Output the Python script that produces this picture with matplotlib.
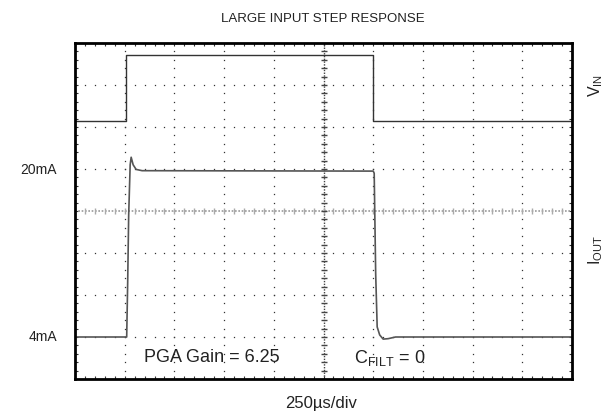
import numpy as np
import matplotlib
matplotlib.use("Agg")
import matplotlib.pyplot as plt

plt.rcParams['font.family'] = ['Liberation Sans', 'DejaVu Sans']

# traces, in scope divisions (x: 0..10, y: 0..8)
vin_t = [0, 1.02, 1.02, 5.99, 5.99, 10]
vin_v = [6.14, 6.14, 7.71, 7.71, 6.15, 6.15]

iout_t = [0, 1.04, 1.06, 1.08, 1.11, 1.13, 1.17, 1.23, 1.35,
          6.0, 6.02, 6.05, 6.08, 6.13, 6.2, 6.3, 6.45, 10]
iout_v = [1.0, 1.0, 2.3, 3.9, 5.1, 5.28, 5.1, 4.99, 4.96,
          4.95, 4.9, 2.5, 1.24, 1.05, 0.95, 0.96, 1.0, 1.0]

level_labels = ['20mA', '4mA']
level_pos = [4.98, 0.99]

fig = plt.figure(figsize=(6.12, 4.15), dpi=100)
ax = fig.add_axes([75 / 612, 36 / 415, 497 / 612, 336 / 415])
ax.set_xlim(0, 10)
ax.set_ylim(0, 8)

# scope graticule
dot_c = '#333333'
fine_x = np.arange(0.2, 10, 0.2)
fine_y = np.arange(0.2, 8, 0.2)
for i in range(1, 10):
    if i == 5:
        continue
    ax.plot([i] * len(fine_y), fine_y, ls='none', marker='s', ms=0.9,
            mew=0, color=dot_c)
for j in range(1, 8):
    if j == 4:
        continue
    ax.plot(fine_x, [j] * len(fine_x), ls='none', marker='s', ms=0.9,
            mew=0, color=dot_c)

# center cross with ticks
ax.axhline(4, color='#999999', lw=1.2, ls=(0, (1, 1)))
ax.axvline(5, color='#444444', lw=1.0, ls=(0, (1, 1)))
ax.plot(fine_x, [4] * len(fine_x), ls='none', marker='|', ms=5,
        mew=1, color='#aaaaaa')
ax.plot([5] * len(fine_y), fine_y, ls='none', marker='_', ms=4,
        mew=1, color='#444444')

# traces
ax.plot(vin_t, vin_v, color='#333333', lw=1.0)
ax.plot(iout_t, iout_v, color='#555555', lw=1.2)

# frame
for s in ax.spines.values():
    s.set_linewidth(2)
    s.set_color('black')
ax.set_xticks(np.arange(0, 10.01, 0.2))
ax.set_yticks(np.arange(0, 8.01, 0.2))
ax.tick_params(direction='in', length=2.5, width=0.8, color='#333333',
               top=True, right=True, labelbottom=False, labelleft=False)

for lab, y in zip(level_labels, level_pos):
    ax.text(-0.36, y, lab, ha='right', va='center', fontsize=10,
            color='#222222')

ax.text(10.48, 7.0, r'$\mathregular{V_{IN}}$', rotation=90, ha='center',
        va='center', fontsize=11.5, color='#222222')
ax.text(10.48, 3.07, r'$\mathregular{I_{OUT}}$', rotation=90, ha='center',
        va='center', fontsize=11.5, color='#222222')

ax.text(1.39, 0.51, 'PGA Gain = 6.25', ha='left', va='center',
        fontsize=13, color='#222222')
ax.text(5.61, 0.51, r'$\mathregular{C_{FILT}}$ = 0', ha='left',
        va='center', fontsize=13, color='#222222')

fig.text(323 / 612, 1 - 19 / 415, 'LARGE INPUT STEP RESPONSE',
         ha='center', va='center', fontsize=9.5, color='#222222')
fig.text(321 / 612, 1 - 403 / 415, '250\u00b5s/div', ha='center',
         va='center', fontsize=12, color='#222222')

fig.savefig('out.png', dpi=100)
